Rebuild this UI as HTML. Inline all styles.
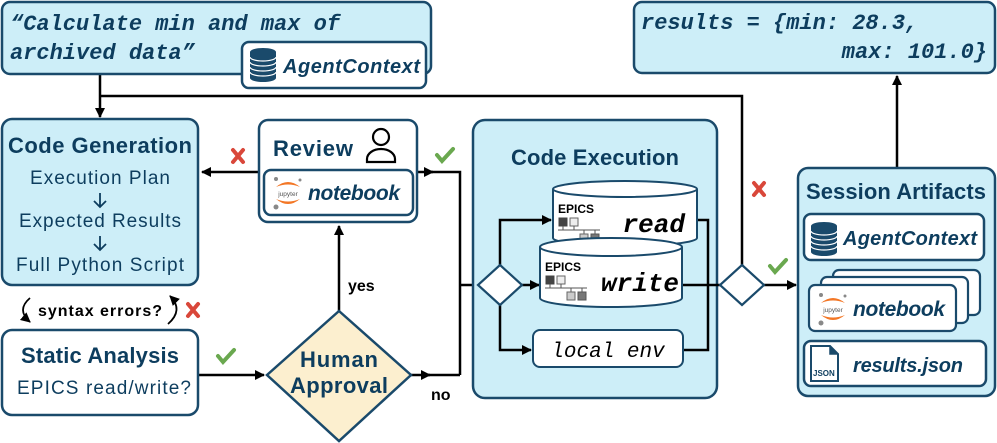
<!DOCTYPE html>
<html><head><meta charset="utf-8"><style>
html,body{margin:0;padding:0;background:#fff;}
svg{display:block;}
.t{font-family:"Liberation Sans","DejaVu Sans",sans-serif;fill:#0d3d5e;}
.b{font-weight:bold;}
.m{font-family:"Liberation Mono",monospace;font-weight:bold;font-style:italic;fill:#0d3d5e;}
.mk{font-family:"Liberation Mono",monospace;font-style:italic;fill:#000;}
</style></head><body>
<svg width="997" height="443" viewBox="0 0 997 443" xmlns="http://www.w3.org/2000/svg">
<defs>
<marker id="ah" markerWidth="10" markerHeight="10" refX="9" refY="5" orient="auto" markerUnits="userSpaceOnUse">
<path d="M0,0 L10,5 L0,10 z" fill="#000"/></marker>
<g id="db"><ellipse cx="14" cy="4" rx="13" ry="4" fill="#1a4a6b"/>
<path d="M1,4 v26 a13,4 0 0 0 26,0 v-26" fill="#1a4a6b"/>
<g stroke="#fff" stroke-width="1.2" fill="none">
<path d="M1,9 a13,4 0 0 0 26,0"/><path d="M1,14 a13,4 0 0 0 26,0"/><path d="M1,19 a13,4 0 0 0 26,0"/><path d="M1,24 a13,4 0 0 0 26,0"/></g></g>
<g id="jup"><circle cx="4" cy="2" r="2" fill="#888"/><circle cx="4" cy="30" r="2.5" fill="#888"/><circle cx="28" cy="3" r="1.5" fill="#888"/>
<path d="M4,10 Q16,0 28,10 Q16,5 4,10z" fill="#f37726"/><path d="M4,22 Q16,32 28,22 Q16,27 4,22z" fill="#f37726"/>
<text x="16" y="19" font-size="6.5" text-anchor="middle" font-family="Liberation Sans,sans-serif" fill="#555">jupyter</text></g>
<g id="epics"><text x="0" y="0" font-family="Liberation Sans,sans-serif" font-weight="bold" font-size="12" fill="#000">EPICS</text>
<rect x="1" y="5" width="8" height="8" fill="#444" stroke="#444"/><rect x="12" y="5" width="8" height="8" fill="#eee" stroke="#666"/>
<path d="M5,13 v4 M16,13 v4 M0,17 h42 M26,17 v4 M37,17 v4" stroke="#555" fill="none"/>
<rect x="22" y="21" width="8" height="8" fill="#ccc" stroke="#666"/><rect x="33" y="21" width="8" height="8" fill="#777" stroke="#555"/></g>
<g id="xx"><path d="M-5,-6 L5,6 M5,-6 L-5,6" stroke="#d9473a" stroke-width="4" stroke-linecap="round"/></g>
<g id="ck"><path d="M-8,0 L-3,6 L8,-6" stroke="#6aa84f" stroke-width="4" fill="none" stroke-linecap="round"/></g>
</defs>

<!-- outer connectors -->
<g stroke="#000" stroke-width="2.5" fill="none">
<path d="M100,74 V117" marker-end="url(#ah)"/>
<path d="M100,96 H742 V265"/>
<path d="M259,172 H202" marker-end="url(#ah)"/>
<path d="M418,172 H433" marker-end="url(#ah)"/>
<path d="M430,172 H460 V375"/>
<path d="M198,375 H264" marker-end="url(#ah)"/>
<path d="M339,311 V226" marker-end="url(#ah)"/>
<path d="M411,375 H430" marker-end="url(#ah)"/>
<path d="M428,375 H460"/>
<path d="M460,285 H478"/>
<path d="M764,285 H796" marker-end="url(#ah)"/>
<path d="M897,168 V76" marker-end="url(#ah)"/>
</g>

<!-- query box -->
<rect x="2" y="2" width="429" height="72" rx="8" fill="#cdeef8" stroke="#1a4a6b" stroke-width="2.5"/>
<text class="m" x="10" y="30" font-size="22">“Calculate min and max of</text>
<text class="m" x="10" y="59" font-size="22">archived data”</text>
<rect x="242" y="42" width="184" height="46" rx="7" fill="#fff" stroke="#1a4a6b" stroke-width="2.5"/>
<use href="#db" x="249" y="48"/>
<text class="t b" x="283" y="73" font-size="20" font-style="italic" textLength="137">AgentContext</text>

<!-- results box -->
<rect x="634" y="2" width="361" height="71" rx="8" fill="#cdeef8" stroke="#1a4a6b" stroke-width="2.5"/>
<text class="m" x="641" y="29" font-size="22">results = {min: 28.3,</text>
<text class="m" x="987" y="58" font-size="22" text-anchor="end">max: 101.0}</text>

<!-- code generation -->
<rect x="2" y="119" width="196" height="166" rx="10" fill="#cdeef8" stroke="#1a4a6b" stroke-width="2.5"/>
<text class="t b" x="100" y="153" font-size="22" text-anchor="middle" textLength="184">Code Generation</text>
<text class="t" x="100" y="184" font-size="19" text-anchor="middle" textLength="140">Execution Plan</text>
<path d="M100,193 v14 M94,201 l6,6 l6,-6" stroke="#0d3d5e" stroke-width="1.8" fill="none"/>
<text class="t" x="100" y="227" font-size="19" text-anchor="middle" textLength="162">Expected Results</text>
<path d="M100,236 v14 M94,244 l6,6 l6,-6" stroke="#0d3d5e" stroke-width="1.8" fill="none"/>
<text class="t" x="100" y="271" font-size="19" text-anchor="middle" textLength="168">Full Python Script</text>

<!-- syntax errors -->
<text x="100" y="316" font-size="16" font-weight="bold" text-anchor="middle" font-family="Liberation Sans,sans-serif" fill="#000" textLength="124">syntax errors?</text>
<path d="M30,298 Q16,310 30,322" stroke="#000" stroke-width="1.8" fill="none" marker-end="url(#ah)"/>
<path d="M168,324 Q184,310 170,296" stroke="#000" stroke-width="1.8" fill="none" marker-end="url(#ah)"/>
<use href="#xx" x="193" y="310"/>

<!-- static analysis -->
<rect x="2" y="330" width="196" height="85" rx="10" fill="#fff" stroke="#1a4a6b" stroke-width="2.5"/>
<text class="t b" x="100" y="363" font-size="22" text-anchor="middle" textLength="158">Static Analysis</text>
<text class="t" x="104" y="394" font-size="19" text-anchor="middle" textLength="174">EPICS read/write?</text>
<use href="#ck" x="226" y="356"/>

<!-- review -->
<rect x="259" y="120" width="158" height="102" rx="9" fill="#fff" stroke="#1a4a6b" stroke-width="2.5"/>
<text class="t b" x="273" y="156" font-size="22" textLength="80">Review</text>
<circle cx="381" cy="137" r="8" fill="none" stroke="#000" stroke-width="2.2"/>
<path d="M367,162 v-3 a14,10 0 0 1 28,0 v3 z" fill="none" stroke="#000" stroke-width="2.2"/>
<rect x="264" y="170" width="149" height="45" rx="7" fill="#fff" stroke="#1a4a6b" stroke-width="2.5"/>
<use href="#jup" x="272" y="177"/>
<text class="t b" x="308" y="200" font-size="21" font-style="italic" textLength="92">notebook</text>
<use href="#xx" x="238" y="156"/>
<use href="#ck" x="445" y="155"/>

<!-- human approval -->
<path d="M339,311 L411,375 L339,441 L267,375 Z" fill="#fcefcf" stroke="#1a4a6b" stroke-width="2.5"/>
<text class="t b" x="339" y="367" font-size="22" text-anchor="middle" textLength="78">Human</text>
<text class="t b" x="339" y="393" font-size="22" text-anchor="middle" textLength="98">Approval</text>
<text x="348" y="291" font-size="16" font-weight="bold" font-family="Liberation Sans,sans-serif" fill="#000">yes</text>
<text x="431" y="400" font-size="16" font-weight="bold" font-family="Liberation Sans,sans-serif" fill="#000">no</text>

<!-- code execution -->
<rect x="473" y="120" width="244" height="278" rx="12" fill="#cdeef8" stroke="#1a4a6b" stroke-width="2.5"/>
<text class="t b" x="595" y="165" font-size="22" text-anchor="middle" textLength="168">Code Execution</text>
<g stroke="#000" stroke-width="2.5" fill="none">
<path d="M500,265 V220 H551" marker-end="url(#ah)"/>
<path d="M522,285 H539" marker-end="url(#ah)"/>
<path d="M500,305 V350 H531" marker-end="url(#ah)"/>
<path d="M697,220 H708 V350 H683"/>
<path d="M682,285 H720"/>
</g>
<path d="M500,265 L522,285 L500,305 L478,285 Z" fill="#fff" stroke="#1a4a6b" stroke-width="2.2"/>
<!-- read cylinder -->
<path d="M553,189 V238 A72,8 0 0 0 697,238 V189" fill="#fff" stroke="#1a4a6b" stroke-width="2"/>
<ellipse cx="625" cy="189" rx="72" ry="8" fill="#fff" stroke="#1a4a6b" stroke-width="2"/>
<use href="#epics" x="558" y="213"/>
<text class="mk" x="685" y="232" font-size="26" font-weight="bold" text-anchor="end">read</text>
<!-- write cylinder -->
<path d="M540,247 V298 A71,9 0 0 0 682,298 V247" fill="#fff" stroke="#1a4a6b" stroke-width="2"/>
<ellipse cx="611" cy="247" rx="71" ry="9" fill="#fff" stroke="#1a4a6b" stroke-width="2"/>
<use href="#epics" x="545" y="271"/>
<text class="mk" x="679" y="291" font-size="26" font-weight="bold" text-anchor="end">write</text>
<rect x="533" y="330" width="150" height="37" rx="7" fill="#fff" stroke="#1a4a6b" stroke-width="2"/>
<text class="mk" x="608" y="357" font-size="21" text-anchor="middle">local env</text>

<!-- diamond 2 -->
<path d="M742,265 L764,285 L742,305 L720,285 Z" fill="#fff" stroke="#1a4a6b" stroke-width="2.2"/>
<use href="#xx" x="759" y="189"/>
<use href="#ck" x="778" y="266"/>

<!-- session artifacts -->
<rect x="798" y="168" width="197" height="228" rx="10" fill="#cdeef8" stroke="#1a4a6b" stroke-width="2.5"/>
<text class="t b" x="896" y="199" font-size="22" text-anchor="middle" textLength="180">Session Artifacts</text>
<rect x="804" y="214" width="180" height="46" rx="7" fill="#fff" stroke="#1a4a6b" stroke-width="2.5"/>
<use href="#db" x="810" y="222"/>
<text class="t b" x="843" y="245" font-size="20" font-style="italic" textLength="134">AgentContext</text>
<rect x="833" y="270" width="147" height="45" rx="6" fill="#fff" stroke="#1a4a6b" stroke-width="2.2"/>
<rect x="821" y="277" width="147" height="46" rx="6" fill="#fff" stroke="#1a4a6b" stroke-width="2.2"/>
<rect x="809" y="285" width="147" height="46" rx="6" fill="#fff" stroke="#1a4a6b" stroke-width="2.2"/>
<use href="#jup" x="817" y="293"/>
<text class="t b" x="853" y="316" font-size="21" font-style="italic" textLength="92">notebook</text>
<rect x="804" y="341" width="182" height="45" rx="7" fill="#fff" stroke="#1a4a6b" stroke-width="2.5"/>
<path d="M811,346 h19 l8,8 v27 h-27 z" fill="#fff" stroke="#1a4a6b" stroke-width="2"/>
<path d="M830,346 v8 h8" fill="#1a4a6b" stroke="#1a4a6b" stroke-width="1.5"/>
<text x="813" y="376" font-size="8" font-weight="bold" font-family="Liberation Sans,sans-serif" fill="#0d3d5e">JSON</text>
<text class="t b" x="853" y="372" font-size="20" font-style="italic" textLength="110">results.json</text>
</svg>
</body></html>
